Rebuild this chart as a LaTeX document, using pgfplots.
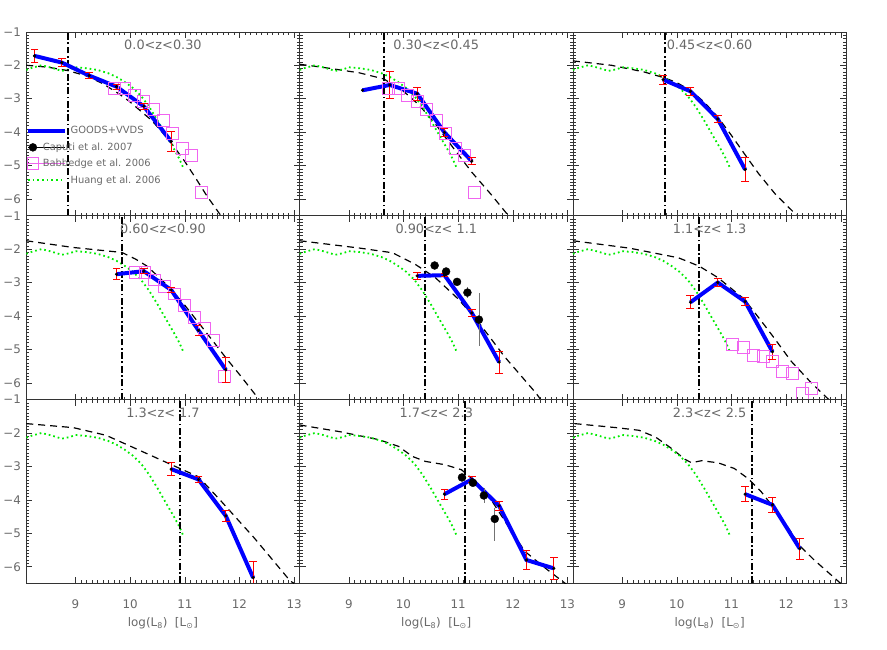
\documentclass[border=0pt]{standalone}
\usepackage{fontspec}
\setmainfont{DejaVu Sans}[Color=696969]
\usepackage{pgfplots}
\usepackage{pgfplotstable}
\pgfplotsset{compat=1.18}
\usepgfplotslibrary{groupplots}
\definecolor{babb}{RGB}{240,100,240}
\definecolor{huang}{RGB}{0,235,0}

\pgfplotstableread{
x y
8.10 -2.14
8.20 -2.08
8.38 -2.00
8.55 -2.07
8.75 -2.17
8.90 -2.12
9.00 -2.06
9.20 -2.09
9.40 -2.14
9.60 -2.24
9.75 -2.35
9.90 -2.50
10.05 -2.68
10.20 -2.92
10.35 -3.25
10.50 -3.65
10.65 -4.08
10.80 -4.50
10.90 -4.80
10.98 -5.10
}\huangtab

\pgfplotstableread{
x y
9.72 -2.68
9.90 -2.70
10.07 -2.90
10.25 -3.08
10.42 -3.33
10.60 -3.64
10.77 -4.03
10.95 -4.48
11.12 -4.69
11.30 -5.79
}\babA

\tikzset{ttl/.style={font=\fontsize{13}{15}\selectfont}}

\pgfplotsset{
  lf/.style={
    width=275bp, height=185bp, scale only axis,
    xmin=8.1, xmax=13.1, ymin=-6.5, ymax=-1,
    xtick={9,10,11,12,13}, ytick={-6,-5,-4,-3,-2,-1},
    xticklabels={}, yticklabels={},
    minor x tick num=9, minor y tick num=9,
    major tick length=6bp, minor tick length=3bp,
    tick pos=both, tick align=inside,
    axis line style={black!80, line width=0.6bp},
    every tick/.style={black!80, line width=0.5bp},
    tick label style={font=\fontsize{12}{14}\selectfont},
    xticklabel style={yshift=-13bp},
    yticklabel style={xshift=-2bp},
    xlabel style={font=\fontsize{12}{14}\selectfont, yshift=-2bp},
    unbounded coords=jump,
  },
  xlab/.style={xticklabels={9,10,11,12,13}, xlabel={log(L\textsubscript{8})\ \ [L\textsubscript{⊙}]}},
  ylab/.style={yticklabels={−6,−5,−4,−3,−2,−1}},
  gv/.style={draw=blue, line width=4bp, mark=none},
  ebar/.style={draw=red, line width=0.9bp, solid, mark=none},
  ecap/.style={only marks, mark=-, mark size=4bp, mark options={solid, draw=red, line width=0.9bp}},
  gvdot/.style={only marks, mark=*, mark size=1.4bp, mark options={draw=black, fill=black}},
  cbar/.style={draw=black!55, line width=0.6bp, solid, mark=none},
  cap/.style={only marks, mark=*, mark size=4bp, mark options={draw=black, fill=black}},
  bab/.style={only marks, mark=square, mark size=6bp, mark options={solid, draw=babb, line width=0.8bp, fill=none}},
  hu/.style={draw=huang, line width=1.8bp, dash pattern=on 1.7bp off 3bp, mark=none},
  sch/.style={draw=black, line width=1.2bp, dash pattern=on 7bp off 5bp, mark=none},
  vl/.style={draw=black, line width=1.9bp, dash pattern=on 7bp off 2.5bp on 1.6bp off 2.5bp, mark=none},
  legline/.style={legend image code/.code={\draw[##1] (0bp,0bp) -- (37bp,0bp);}},
  legmark/.style={legend image code/.code={\path (0bp,0bp) -- (37bp,0bp); \draw[##1] plot coordinates {(5bp,0bp)};}},
}

\begin{document}
\begin{tikzpicture}
\begin{groupplot}[group style={group size=3 by 3, horizontal sep=0pt, vertical sep=0pt}, lf]

% ---------- panel 1
\nextgroupplot[ylab,
  legend style={at={(axis cs:8.09,-3.77)}, anchor=north west, draw=none, fill=none,
    font=\fontsize{10}{12}\selectfont, row sep=3.5bp, inner sep=0pt},
  legend cell align=left]
\addlegendimage{legline, draw=blue, line width=4bp}
\addlegendentry{\hspace*{2bp}GOODS+VVDS}
\addlegendimage{legmark, draw=black, fill=black, mark=*, mark size=4bp}
\addlegendentry{\hspace*{-26bp}Caputi et al. 2007}
\addlegendimage{legmark, draw=babb, mark=square, mark size=6bp, line width=0.8bp}
\addlegendentry{\hspace*{-26bp}Babbedge et al. 2006}
\addlegendimage{legline, draw=huang, line width=1.8bp, dash pattern=on 1.7bp off 3bp}
\addlegendentry{\hspace*{2bp}Huang et al. 2006}
\addplot[sch] coordinates {(8.1,-2.0) (8.5,-2.06) (8.86,-2.16) (9.2,-2.32) (9.5,-2.55) (9.8,-2.86) (10.0,-3.1) (10.2,-3.38) (10.4,-3.66) (10.6,-4.03) (10.8,-4.43) (11.0,-4.88) (11.2,-5.38) (11.4,-5.9) (11.66,-6.5)};
\addplot[hu] table {\huangtab};
\addplot[vl] coordinates {(8.86,-6.5) (8.86,-1)};
\addplot[bab] table {\babA};
\addplot[gv] coordinates {(8.25,-1.72) (8.75,-1.92) (9.25,-2.31) (9.75,-2.64) (10.25,-3.23) (10.75,-4.28)};
\addplot[ebar] coordinates {(8.25,-1.53) (8.25,-1.91) (8.25,nan) (8.75,-1.79) (8.75,-2.05) (8.75,nan) (9.25,-2.21) (9.25,-2.41) (9.25,nan) (9.75,-2.56) (9.75,-2.72) (9.75,nan) (10.25,-3.13) (10.25,-3.33) (10.25,nan) (10.75,-3.98) (10.75,-4.58)};
\addplot[ecap] coordinates {(8.25,-1.53) (8.25,-1.91) (8.75,-1.79) (8.75,-2.05) (9.25,-2.21) (9.25,-2.41) (9.75,-2.56) (9.75,-2.72) (10.25,-3.13) (10.25,-3.33) (10.75,-3.98) (10.75,-4.58)};
\addplot[gvdot] coordinates {(8.25,-1.72) (8.75,-1.92) (9.25,-2.31) (9.75,-2.64) (10.25,-3.23) (10.75,-4.28)};
\node[ttl] at (rel axis cs:0.5,0.93) {0.0<z<0.30};

% ---------- panel 2
\nextgroupplot
\addplot[sch] coordinates {(8.1,-1.97) (8.6,-2.08) (9.2,-2.23) (9.64,-2.41) (9.98,-2.75) (10.28,-3.18) (10.58,-3.75) (10.9,-4.45) (11.25,-5.2) (11.6,-5.86) (11.92,-6.5)};
\addplot[hu] table {\huangtab};
\addplot[vl] coordinates {(9.65,-6.5) (9.65,-1)};
\addplot[bab] table {\babA};
\addplot[gv] coordinates {(9.25,-2.75) (9.75,-2.59) (10.25,-2.85) (10.75,-4.01) (11.25,-4.87)};
\addplot[ebar] coordinates {(9.75,-2.20) (9.75,-2.98) (9.75,nan) (10.25,-2.65) (10.25,-3.05) (10.25,nan) (10.75,-3.90) (10.75,-4.12) (10.75,nan) (11.25,-4.77) (11.25,-4.97)};
\addplot[ecap] coordinates {(9.75,-2.20) (9.75,-2.98) (10.25,-2.65) (10.25,-3.05) (10.75,-3.90) (10.75,-4.12) (11.25,-4.77) (11.25,-4.97)};
\addplot[gvdot] coordinates {(9.25,-2.75) (9.75,-2.59) (10.25,-2.85) (10.75,-4.01) (11.25,-4.87)};
\node[ttl] at (rel axis cs:0.5,0.93) {0.30<z<0.45};

% ---------- panel 3
\nextgroupplot
\addplot[sch] coordinates {(8.1,-1.87) (8.8,-2.0) (9.4,-2.2) (9.78,-2.38) (10.0,-2.52) (10.25,-2.75) (10.5,-3.1) (10.75,-3.55) (11.0,-4.1) (11.25,-4.68) (11.5,-5.25) (11.8,-5.85) (12.2,-6.5)};
\addplot[hu] table {\huangtab};
\addplot[vl] coordinates {(9.78,-6.5) (9.78,-1)};
\addplot[gv] coordinates {(9.75,-2.43) (10.25,-2.78) (10.75,-3.61) (11.25,-5.12)};
\addplot[ebar] coordinates {(9.75,-2.30) (9.75,-2.56) (9.75,nan) (10.25,-2.67) (10.25,-2.89) (10.25,nan) (10.75,-3.50) (10.75,-3.72) (10.75,nan) (11.25,-4.75) (11.25,-5.49)};
\addplot[ecap] coordinates {(9.75,-2.30) (9.75,-2.56) (10.25,-2.67) (10.25,-2.89) (10.75,-3.50) (10.75,-3.72) (11.25,-4.75) (11.25,-5.49)};
\addplot[gvdot] coordinates {(9.75,-2.43) (10.25,-2.78) (10.75,-3.61) (11.25,-5.12)};
\node[ttl] at (rel axis cs:0.5,0.93) {0.45<z<0.60};

% ---------- panel 4
\nextgroupplot[ylab]
\addplot[sch] coordinates {(8.1,-1.75) (8.95,-1.95) (9.85,-2.1) (10.1,-2.3) (10.3,-2.5) (10.5,-2.8) (10.75,-3.2) (11.0,-3.68) (11.25,-4.2) (11.5,-4.72) (11.75,-5.25) (12.0,-5.75) (12.36,-6.5)};
\addplot[hu] table {\huangtab};
\addplot[vl] coordinates {(9.85,-6.5) (9.85,-1)};
\addplot[bab] coordinates {(10.09,-2.70) (10.27,-2.70) (10.45,-2.92) (10.63,-3.12) (10.81,-3.34) (10.99,-3.67) (11.17,-4.03) (11.36,-4.38) (11.52,-4.72) (11.72,-5.81)};
\addplot[gv] coordinates {(9.75,-2.75) (10.25,-2.66) (10.75,-3.22) (11.25,-4.43) (11.75,-5.61)};
\addplot[ebar] coordinates {(9.75,-2.58) (9.75,-2.92) (9.75,nan) (10.25,-2.59) (10.25,-2.73) (10.25,nan) (10.75,-3.14) (10.75,-3.30) (10.75,nan) (11.25,-4.27) (11.25,-4.59) (11.25,nan) (11.75,-5.23) (11.75,-5.99)};
\addplot[ecap] coordinates {(9.75,-2.58) (9.75,-2.92) (10.25,-2.59) (10.25,-2.73) (10.75,-3.14) (10.75,-3.30) (11.25,-4.27) (11.25,-4.59) (11.75,-5.23) (11.75,-5.99)};
\addplot[gvdot] coordinates {(9.75,-2.75) (10.25,-2.66) (10.75,-3.22) (11.25,-4.43) (11.75,-5.61)};
\node[ttl] at (rel axis cs:0.5,0.93) {0.60<z<0.90};

% ---------- panel 5
\nextgroupplot
\addplot[sch] coordinates {(8.1,-1.75) (9.2,-1.97) (9.8,-2.11) (10.22,-2.46) (10.58,-2.85) (11.0,-3.49) (11.37,-4.18) (11.85,-5.22) (12.42,-6.3) (12.51,-6.5)};
\addplot[hu] table {\huangtab};
\addplot[vl] coordinates {(10.40,-6.5) (10.40,-1)};
\addplot[gv] coordinates {(10.25,-2.80) (10.75,-2.78) (11.25,-3.91) (11.75,-5.38)};
\addplot[ebar] coordinates {(10.25,-2.70) (10.25,-2.90) (10.25,nan) (10.75,-2.74) (10.75,-2.82) (10.75,nan) (11.25,-3.81) (11.25,-4.01) (11.25,nan) (11.75,-5.05) (11.75,-5.71)};
\addplot[ecap] coordinates {(10.25,-2.70) (10.25,-2.90) (10.75,-2.74) (10.75,-2.82) (11.25,-3.81) (11.25,-4.01) (11.75,-5.05) (11.75,-5.71)};
\addplot[gvdot] coordinates {(10.25,-2.80) (10.75,-2.78) (11.25,-3.91) (11.75,-5.38)};
\addplot[cbar] coordinates {(10.57,-2.44) (10.57,-2.54) (10.57,nan) (10.78,-2.61) (10.78,-2.73) (10.78,nan) (10.98,-2.88) (10.98,-3.08) (10.98,nan) (11.17,-3.14) (11.17,-3.46) (11.17,nan) (11.38,-3.32) (11.38,-4.90)};
\addplot[cap] coordinates {(10.57,-2.49) (10.78,-2.67) (10.98,-2.98) (11.17,-3.30) (11.38,-4.11)};
\node[ttl] at (rel axis cs:0.5,0.93) {0.90<z< 1.1};

% ---------- panel 6
\nextgroupplot
\addplot[sch] coordinates {(8.1,-1.75) (9.13,-1.97) (10.03,-2.26) (10.41,-2.51) (10.75,-2.85) (11.23,-3.49) (11.55,-4.16) (11.8,-4.7) (12.09,-5.35) (12.46,-6.0) (12.78,-6.5)};
\addplot[hu] table {\huangtab};
\addplot[vl] coordinates {(10.41,-6.5) (10.41,-1)};
\addplot[bab] coordinates {(11.02,-4.85) (11.22,-4.93) (11.40,-5.17) (11.58,-5.20) (11.75,-5.35) (11.93,-5.67) (12.11,-5.71) (12.29,-6.32) (12.47,-6.16)};
\addplot[gv] coordinates {(10.25,-3.59) (10.75,-3.0) (11.25,-3.57) (11.75,-5.07)};
\addplot[ebar] coordinates {(10.25,-3.40) (10.25,-3.78) (10.25,nan) (10.75,-2.89) (10.75,-3.11) (10.75,nan) (11.25,-3.44) (11.25,-3.70) (11.25,nan) (11.75,-4.84) (11.75,-5.30)};
\addplot[ecap] coordinates {(10.25,-3.40) (10.25,-3.78) (10.75,-2.89) (10.75,-3.11) (11.25,-3.44) (11.25,-3.70) (11.75,-4.84) (11.75,-5.30)};
\addplot[gvdot] coordinates {(10.25,-3.59) (10.75,-3.0) (11.25,-3.57) (11.75,-5.07)};
\node[ttl] at (rel axis cs:0.5,0.93) {1.1<z< 1.3};

% ---------- panel 7
\nextgroupplot[ylab, xlab]
\addplot[sch] coordinates {(8.1,-1.72) (8.96,-1.84) (9.56,-2.07) (10.16,-2.51) (10.77,-2.96) (11.25,-3.31) (11.67,-4.05) (12.27,-5.14) (12.93,-6.43) (13.0,-6.5)};
\addplot[hu] table {\huangtab};
\addplot[vl] coordinates {(10.91,-6.5) (10.91,-1)};
\addplot[gv] coordinates {(10.75,-3.08) (11.25,-3.39) (11.75,-4.48) (12.25,-6.33)};
\addplot[ebar] coordinates {(10.75,-2.88) (10.75,-3.28) (10.75,nan) (11.25,-3.29) (11.25,-3.49) (11.25,nan) (11.75,-4.32) (11.75,-4.64) (11.75,nan) (12.25,-5.83) (12.25,-6.5)};
\addplot[ecap] coordinates {(10.75,-2.88) (10.75,-3.28) (11.25,-3.29) (11.25,-3.49) (11.75,-4.32) (11.75,-4.64) (12.25,-5.83)};
\addplot[gvdot] coordinates {(10.75,-3.08) (11.25,-3.39) (11.75,-4.48) (12.25,-6.33)};
\node[ttl] at (rel axis cs:0.5,0.93) {1.3<z< 1.7};

% ---------- panel 8
\nextgroupplot[xlab]
\addplot[sch] coordinates {(8.1,-1.76) (8.83,-1.96) (9.55,-2.2) (9.91,-2.4) (10.16,-2.7) (10.4,-2.85) (10.76,-2.95) (11.06,-3.1) (11.35,-3.5) (11.62,-4.04) (11.9,-4.75) (12.22,-5.54) (12.6,-6.05) (13.0,-6.55)};
\addplot[hu] table {\huangtab};
\addplot[vl] coordinates {(11.13,-6.5) (11.13,-1)};
\addplot[gv] coordinates {(10.75,-3.83) (11.25,-3.39) (11.75,-4.18) (12.25,-5.8) (12.75,-6.05)};
\addplot[ebar] coordinates {(10.75,-3.68) (10.75,-3.98) (10.75,nan) (11.25,-3.29) (11.25,-3.49) (11.25,nan) (11.75,-4.05) (11.75,-4.31) (11.75,nan) (12.25,-5.52) (12.25,-6.08) (12.25,nan) (12.75,-5.72) (12.75,-6.38)};
\addplot[ecap] coordinates {(10.75,-3.68) (10.75,-3.98) (11.25,-3.29) (11.25,-3.49) (11.75,-4.05) (11.75,-4.31) (12.25,-5.52) (12.25,-6.08) (12.75,-5.72) (12.75,-6.38)};
\addplot[gvdot] coordinates {(10.75,-3.83) (11.25,-3.39) (11.75,-4.18) (12.25,-5.8) (12.75,-6.05)};
\addplot[cbar] coordinates {(11.07,-3.28) (11.07,-3.38) (11.07,nan) (11.27,-3.41) (11.27,-3.57) (11.27,nan) (11.47,-3.65) (11.47,-4.09) (11.47,nan) (11.67,-4.24) (11.67,-5.23)};
\addplot[cap] coordinates {(11.07,-3.33) (11.27,-3.49) (11.47,-3.87) (11.67,-4.57)};
\node[ttl] at (rel axis cs:0.5,0.93) {1.7<z< 2.3};

% ---------- panel 9
\nextgroupplot[xlab]
\addplot[sch] coordinates {(8.13,-1.72) (8.89,-1.84) (9.31,-1.92) (9.61,-2.12) (9.91,-2.47) (10.15,-2.79) (10.27,-2.89) (10.45,-2.83) (10.75,-2.89) (11.05,-3.06) (11.3,-3.36) (11.54,-3.75) (11.78,-4.25) (12.02,-4.79) (12.26,-5.39) (12.5,-5.78) (12.97,-6.46) (13.0,-6.5)};
\addplot[hu] table {\huangtab};
\addplot[vl] coordinates {(11.37,-6.5) (11.37,-1)};
\addplot[gv] coordinates {(11.25,-3.83) (11.75,-4.15) (12.25,-5.46)};
\addplot[ebar] coordinates {(11.25,-3.61) (11.25,-4.05) (11.25,nan) (11.75,-3.93) (11.75,-4.37) (11.75,nan) (12.25,-5.15) (12.25,-5.77)};
\addplot[ecap] coordinates {(11.25,-3.61) (11.25,-4.05) (11.75,-3.93) (11.75,-4.37) (12.25,-5.15) (12.25,-5.77)};
\addplot[gvdot] coordinates {(11.25,-3.83) (11.75,-4.15) (12.25,-5.46)};
\node[ttl] at (rel axis cs:0.5,0.93) {2.3<z< 2.5};
\end{groupplot}
\path ([shift={(-21bp,32bp)}]group c1r1.north west) rectangle ([shift={(41bp,-66bp)}]group c3r3.south east);
\end{tikzpicture}
\end{document}
